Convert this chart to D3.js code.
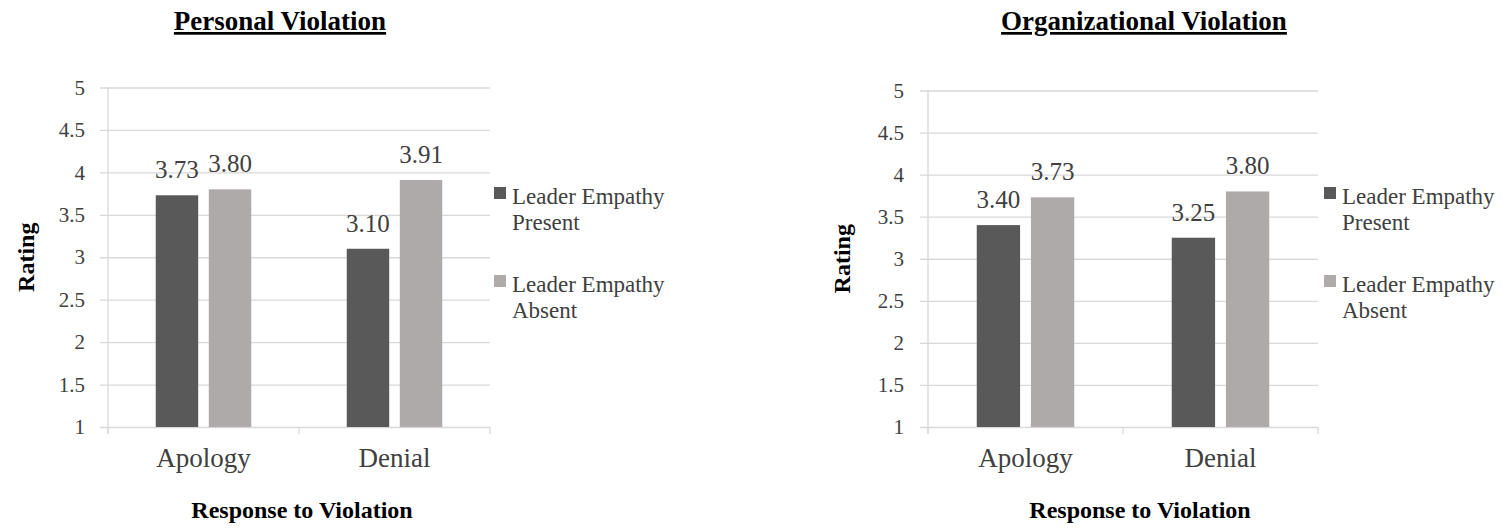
<!DOCTYPE html>
<html>
<head>
<meta charset="utf-8">
<script src="https://cdn.jsdelivr.net/npm/d3@7/dist/d3.min.js"></script>
<style>
  html, body { margin: 0; padding: 0; background: #fff; }
  svg { display: block; }
  text { font-family: "Liberation Serif", "Times New Roman", serif; }
</style>
</head>
<body>
<svg id="chart" width="1510" height="528"></svg>
<script>
// ---- Data ----
const categories = ["Apology", "Denial"];
const seriesNames = ["Leader Empathy Present", "Leader Empathy Absent"];
const seriesLines = [["Leader Empathy", "Present"], ["Leader Empathy", "Absent"]];
const personalPresent = [3.73, 3.10];
const personalAbsent = [3.80, 3.91];
const organizationalPresent = [3.40, 3.25];
const organizationalAbsent = [3.73, 3.80];
const yTickValues = [1, 1.5, 2, 2.5, 3, 3.5, 4, 4.5, 5];
const yTickLabels = ["1", "1.5", "2", "2.5", "3", "3.5", "4", "4.5", "5"];
const panelTitles = ["Personal Violation", "Organizational Violation"];
const xAxisTitle = "Response to Violation";
const yAxisTitle = "Rating";

const colors = ["#595959", "#aeaaaa"];

const svg = d3.select("#chart");

const panels = [
  { title: panelTitles[0], present: personalPresent, absent: personalAbsent,
    left: 108, right: 490, top: 87.5, bottom: 427, titleX: 280,
    yTitleX: 26, xTitleX: 302, legendX: 494, tickRight: 85 },
  { title: panelTitles[1], present: organizationalPresent, absent: organizationalAbsent,
    left: 928, right: 1318, top: 90.5, bottom: 427, titleX: 1144,
    yTitleX: 842, xTitleX: 1140, legendX: 1324, tickRight: 904 }
];

panels.forEach(p => {
  const g = svg.append("g");
  const y = d3.scaleLinear().domain([1, 5]).range([p.bottom, p.top]);
  const x0 = d3.scaleBand().domain(categories).range([p.left, p.right]).padding(0);
  const bw = x0.bandwidth();
  const x1 = d3.scaleBand().domain(seriesNames).range([bw * 0.25, bw * 0.75]).paddingInner(0.2).paddingOuter(0);

  // gridlines + tick labels
  const yAxis = d3.axisLeft(y).tickValues(yTickValues)
    .tickFormat((d, i) => yTickLabels[i])
    .tickSize(-(p.right - p.left)).tickPadding(p.left - p.tickRight);
  const ya = g.append("g").attr("transform", `translate(${p.left},0)`).call(yAxis);
  ya.select(".domain").remove();
  ya.selectAll(".tick line").attr("stroke", "#d9d9d9").attr("stroke-width", 1.3)
    .attr("x1", -8);
  ya.selectAll(".tick text").attr("font-size", 21).attr("fill", "#404040");

  // vertical axis line
  g.append("line").attr("x1", p.left).attr("x2", p.left)
    .attr("y1", y(5)).attr("y2", p.bottom + 7)
    .attr("stroke", "#d9d9d9").attr("stroke-width", 1.3);

  // category dividers (x axis)
  const dividers = [p.left].concat(categories.map(c => x0(c) + bw));
  g.selectAll(".div").data(dividers).enter().append("line")
    .attr("x1", d => d).attr("x2", d => d)
    .attr("y1", p.bottom).attr("y2", p.bottom + 7)
    .attr("stroke", "#d9d9d9").attr("stroke-width", 1.3);

  // bars
  const rows = categories.map((c, i) => ({ cat: c, vals: [p.present[i], p.absent[i]] }));
  const grp = g.selectAll(".grp").data(rows).enter().append("g")
    .attr("transform", d => `translate(${x0(d.cat)},0)`);
  grp.selectAll("rect").data(d => d.vals.map((v, j) => ({ v, s: seriesNames[j], j })))
    .enter().append("rect")
    .attr("x", d => x1(d.s)).attr("width", x1.bandwidth())
    .attr("y", d => y(d.v)).attr("height", d => y(1) - y(d.v))
    .attr("fill", d => colors[d.j]);
  grp.selectAll(".val").data(d => d.vals.map((v, j) => ({ v, s: seriesNames[j], j })))
    .enter().append("text")
    .attr("x", d => x1(d.s) + x1.bandwidth() / 2).attr("y", d => y(d.v) - 17)
    .attr("text-anchor", "middle").attr("font-size", 25).attr("fill", "#404040")
    .text(d => d.v.toFixed(2));

  // category labels
  g.selectAll(".cat").data(categories).enter().append("text")
    .attr("x", d => x0(d) + bw / 2).attr("y", p.bottom + 40)
    .attr("text-anchor", "middle").attr("font-size", 27).attr("fill", "#404040")
    .text(d => d);

  // titles
  g.append("text").attr("x", p.titleX).attr("y", 30).attr("text-anchor", "middle")
    .attr("font-size", 27).attr("font-weight", "bold").attr("fill", "#000")
    .style("text-decoration", "underline").text(p.title);
  g.append("text").attr("x", p.xTitleX).attr("y", 518).attr("text-anchor", "middle")
    .attr("font-size", 24).attr("font-weight", "bold").attr("fill", "#000")
    .text(xAxisTitle);
  g.append("text").attr("transform", `translate(${p.yTitleX + 8},${(p.top + p.bottom) / 2}) rotate(-90)`)
    .attr("text-anchor", "middle")
    .attr("font-size", 24).attr("font-weight", "bold").attr("fill", "#000")
    .text(yAxisTitle);

  // legend
  const legendY = [204, 292];
  seriesNames.forEach((s, j) => {
    g.append("rect").attr("x", p.legendX).attr("y", legendY[j] - 17)
      .attr("width", 12).attr("height", 12).attr("fill", colors[j]);
    const t = g.append("text").attr("x", p.legendX + 18).attr("y", legendY[j])
      .attr("font-size", 23).attr("fill", "#404040");
    seriesLines[j].forEach((ln, k) => {
      t.append("tspan").attr("x", p.legendX + 18).attr("dy", k === 0 ? 0 : 26).text(ln);
    });
  });
});
</script>
</body>
</html>
